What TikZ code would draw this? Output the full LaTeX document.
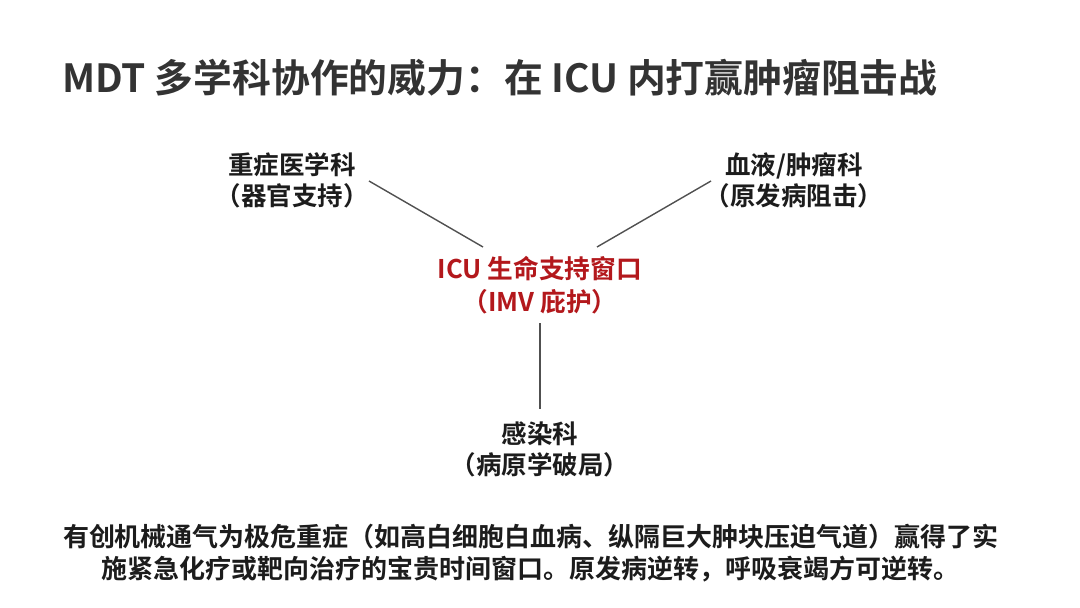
\documentclass[tikz,border=0pt]{standalone}
\usepackage{fontspec}
\setmainfont{Noto Sans CJK SC}[BoldFont={Noto Sans CJK SC Bold}]
\definecolor{titlegray}{HTML}{333333}
\definecolor{labelblack}{HTML}{1C1C1C}
\definecolor{icured}{HTML}{B3181C}
\definecolor{linegray}{HTML}{505050}
\begin{document}
\begin{tikzpicture}[x=1pt,y=-1pt,
  titlestyle/.style={anchor=west,inner sep=0pt,text=titlegray,font=\fontsize{38.8}{46}\selectfont\bfseries},
  dept/.style={align=center,inner sep=0pt,text=labelblack,font=\fontsize{25.5}{31}\selectfont\bfseries},
  hub/.style={align=center,inner sep=0pt,text=icured,font=\fontsize{25.7}{33}\selectfont\bfseries},
  note/.style={align=center,inner sep=0pt,text=labelblack,font=\fontsize{26}{32}\selectfont\bfseries},
  link/.style={draw=linegray,line width=1.4pt}]
\useasboundingbox[fill=white] (0,0) rectangle (1080,608);
\node[titlestyle] (title) at (62,78) {MDT 多学科协作的威力：在 ICU 内打赢肿瘤阻击战};
\node[dept] (ccm) at (292,180) {重症医学科\\（器官支持）};
\node[dept] (hem) at (794,180) {血液/肿瘤科\\（原发病阻击）};
\node[hub] (icu) at (540,285) {ICU 生命支持窗口\\（IMV 庇护）};
\node[dept] (inf) at (540,449) {感染科\\（病原学破局）};
\node[note] (summary) at (531,553) {有创机械通气为极危重症（如高白细胞白血病、纵隔巨大肿块压迫气道）赢得了实\\施紧急化疗或靶向治疗的宝贵时间窗口。原发病逆转，呼吸衰竭方可逆转。};
\coordinate (ccmend) at (369,181);
\coordinate (hemend) at (711,181);
\coordinate (icul) at (483,247);
\coordinate (icur) at (597,247);
\coordinate (icub) at (540,323);
\coordinate (inft) at (540,409);
\draw[link] (ccmend) -- (icul);
\draw[link] (hemend) -- (icur);
\draw[link] (icub) -- (inft);
\end{tikzpicture}
\end{document}
